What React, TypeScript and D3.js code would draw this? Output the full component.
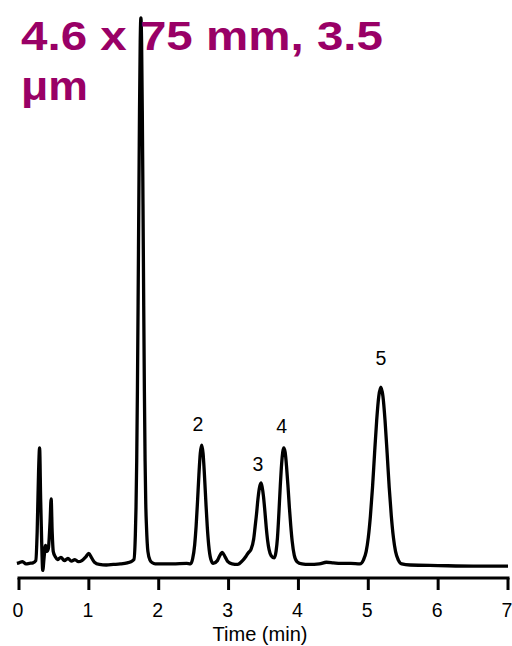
import React from "react";
import * as d3 from "d3";

const traceTime = [
  -0.03, 0.0, 0.05, 0.1, 0.15, 0.2, 0.24, 0.26, 0.28, 0.295, 0.31, 0.325, 0.34, 0.36, 0.38, 0.4, 0.42, 0.445, 0.46, 0.475, 0.49, 0.52,
  0.55, 0.6, 0.65, 0.7, 0.75, 0.8, 0.85, 0.9, 0.95, 1.0, 1.04, 1.08, 1.15, 1.25, 1.35, 1.45, 1.55, 1.6,
  1.645, 1.665, 1.675, 1.685, 1.695, 1.705, 1.715, 1.725, 1.735, 1.745, 1.755, 1.765, 1.775, 1.785, 1.795, 1.805, 1.815, 1.825, 1.845, 1.875, 1.91, 1.95,
  2.0, 2.2, 2.4, 2.455, 2.485, 2.515, 2.535, 2.555, 2.575, 2.595, 2.615, 2.635, 2.655, 2.675, 2.695, 2.715, 2.745, 2.78,
  2.84, 2.87, 2.91, 2.95, 2.99, 3.05, 3.13,
  3.2, 3.25, 3.28, 3.32, 3.36, 3.38, 3.4, 3.42, 3.44, 3.464, 3.48, 3.5, 3.52, 3.54, 3.56, 3.58, 3.61, 3.655,
  3.68, 3.7, 3.72, 3.74, 3.76, 3.79, 3.81, 3.83, 3.85, 3.87, 3.89, 3.91, 3.94, 3.98, 4.05,
  4.15, 4.3, 4.4, 4.5, 4.6, 4.75, 4.88,
  4.93, 4.97, 5.0, 5.03, 5.06, 5.09, 5.12, 5.15, 5.18, 5.21, 5.24, 5.27, 5.3, 5.33, 5.36, 5.39, 5.43, 5.48, 5.6, 6.0, 6.5, 7.0,
];

const traceSignal = [
  0.3, 0.4, 0.6, 0.2, 0.3, 0.4, 0.8, 6, 17, 21.4, 12, 4, -1.0, 1.5, 3.6, 2.5, 3.0, 8, 12.1, 6, 2.5, 1.5,
  1.0, 1.4, 0.8, 1.2, 0.7, 1.0, 0.6, 0.8, 1.4, 2.1, 1.3, 0.5, 0.1, 0.0, 0.1, 0.2, 0.4, 0.6,
  1.0, 5.3, 10.5, 19, 31.7, 48, 66, 83, 95.5, 100, 95.5, 83, 66, 48, 31.7, 19, 11, 7, 2.5, 0.9, 0.4, 0.2,
  0.2, 0.2, 0.3, 0.2, 1.1, 3.7, 7.0, 11.5, 16.4, 20.4, 21.9, 20.4, 16.4, 11.5, 7.0, 3.7, 1.1, 0.3,
  0.8, 1.6, 2.3, 1.5, 0.6, 0.2, 0.1,
  0.8, 1.6, 2.2, 2.8, 4.8, 7.0, 9.3, 12.0, 14.0, 15.0, 14.3, 12.5, 9.8, 6.8, 4.4, 2.8, 1.7, 1.3,
  2.5, 5.0, 9.4, 14.4, 18.6, 21.4, 20.6, 18.0, 14.5, 10.6, 7.2, 4.4, 1.8, 0.6, 0.2,
  0.1, 0.2, 0.5, 0.4, 0.3, 0.3, 0.2,
  0.9, 2.5, 5.0, 8.9, 14.1, 20.4, 26.4, 30.8, 32.5, 30.8, 26.4, 20.4, 14.1, 8.9, 5.0, 2.5, 0.9, 0.2, 0.0, -0.1, -0.2, -0.2,
];

const peakLabels = ["2", "3", "4", "5"];
const peakLabelTime = [2.562, 3.421, 3.76, 5.182];
const peakLabelSignal = [24.5, 17.2, 24.1, 36.6];

const xTicks = [0, 1, 2, 3, 4, 5, 6, 7];
const titleLines = ["4.6 x 75 mm, 3.5", "\u03bcm"];
const xAxisTitle = "Time (min)";

export default function App() {
  const W = 512;
  const H = 646;
  const x = d3.scaleLinear().domain([0, 7]).range([19, 508]);
  const y = d3.scaleLinear().domain([0, 100]).range([565, 18]);
  const pts: [number, number][] = traceTime.map((t, i) => [t, traceSignal[i]]);
  const line = d3
    .line<[number, number]>()
    .x((d) => x(d[0]))
    .y((d) => y(d[1]))
    .curve(d3.curveMonotoneX);
  const axisY = 578;
  const font = "Arial, 'Liberation Sans', Helvetica, sans-serif";
  const fs = 19.5;

  return (
    <svg width={W} height={H} style={{ position: "absolute", left: 0, top: 0 }} fontFamily={font}>
      <rect width={W} height={H} fill="#fff" />
      <path d={line(pts) || ""} fill="none" stroke="#000" strokeWidth={3.3} strokeLinejoin="round" />
      <line x1={x(0) - 1.5} x2={x(7) + 1.5} y1={axisY} y2={axisY} stroke="#000" strokeWidth={3} />
      {xTicks.map((t) => (
        <g key={t}>
          <line x1={x(t)} x2={x(t)} y1={axisY} y2={axisY + 12} stroke="#000" strokeWidth={3} />
          <text x={x(t) - 1} y={616.5} textAnchor="middle" fontSize={fs} fill="#000">
            {t}
          </text>
        </g>
      ))}
      <text x={260} y={641} textAnchor="middle" fontSize={fs} fill="#000" textLength={95} lengthAdjust="spacingAndGlyphs">
        {xAxisTitle}
      </text>
      {peakLabels.map((l, i) => (
        <text key={l} x={x(peakLabelTime[i])} y={y(peakLabelSignal[i])} textAnchor="middle" fontSize={fs} fill="#000">
          {l}
        </text>
      ))}
      <text x={21} y={50} fontSize={41} fontWeight="bold" fill="#990066" textLength={362} lengthAdjust="spacingAndGlyphs">
        {titleLines[0]}
      </text>
      <text x={21} y={100} fontSize={41} fontWeight="bold" fill="#990066" textLength={67} lengthAdjust="spacingAndGlyphs">
        {titleLines[1]}
      </text>
    </svg>
  );
}
